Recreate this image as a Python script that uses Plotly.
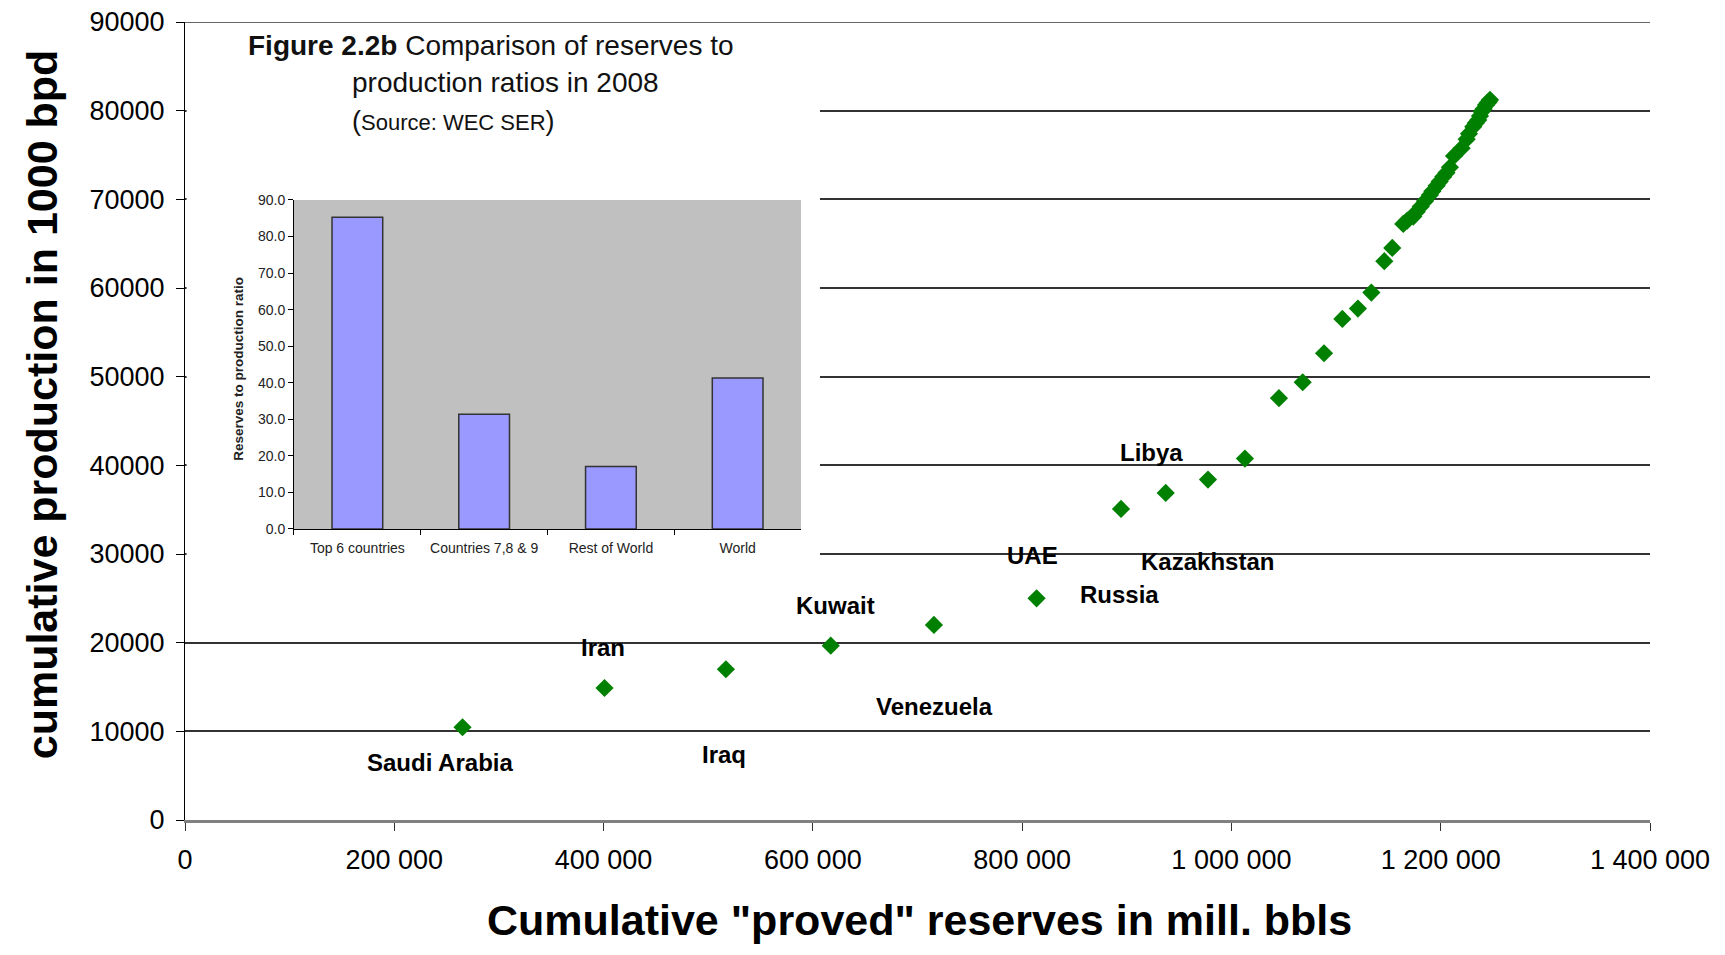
import plotly.graph_objects as go

# --- main scatter: cumulative reserves vs cumulative production ---
cum_reserves = [265200, 400900, 516900, 617100, 715700, 813800, 894500, 937200,
                977600, 1012900, 1045400, 1068100, 1088500, 1106000, 1120900,
                1133700, 1146100, 1153700, 1164200, 1168000, 1173800, 1177000,
                1180900, 1185000, 1189700, 1192000, 1196100, 1199000, 1202400,
                1205500, 1208800, 1212700, 1220000, 1224800, 1227000, 1231100,
                1233500, 1235900, 1237500, 1239100, 1241000, 1243300, 1245000,
                1246000, 1247100]
cum_production = [10460, 14890, 17000, 19660, 22000, 25000, 35080, 36890,
                  38390, 40760, 47570, 49370, 52640, 56510, 57680,
                  59480, 63020, 64520, 67230, 67600, 68050, 68600,
                  69180, 69800, 70500, 70900, 71520, 72000, 72560,
                  73000, 73620, 74900, 75770, 76780, 77400, 78200,
                  78600, 78960, 79400, 79900, 80200, 80650, 80900,
                  81000, 81220]

country_labels = ["Saudi Arabia", "Iran", "Iraq", "Kuwait", "Venezuela",
                  "UAE", "Russia", "Kazakhstan", "Libya"]
label_x = [243700, 399500, 515100, 621200, 715800, 809500, 892600, 976700, 923200]
label_y = [6540, 19400, 7440, 24140, 12750, 29780, 25380, 29100, 41400]

x_ticks = [0, 200000, 400000, 600000, 800000, 1000000, 1200000, 1400000]
x_ticktext = ["0", "200 000", "400 000", "600 000", "800 000",
              "1 000 000", "1 200 000", "1 400 000"]
y_ticks = [0, 10000, 20000, 30000, 40000, 50000, 60000, 70000, 80000, 90000]
y_ticktext = [str(v) for v in y_ticks]

# --- inset bar chart: reserves to production ratios ---
groups = ["Top 6 countries", "Countries 7,8 & 9", "Rest of World", "World"]
rp_ratio = [85.3, 31.4, 17.1, 41.3]

FONT = "Liberation Sans, Arial, sans-serif"

fig = go.Figure()

fig.add_trace(go.Scatter(
    x=cum_reserves, y=cum_production, mode="markers",
    marker=dict(symbol="diamond", size=14, color="#008000"),
    xaxis="x", yaxis="y", showlegend=False,
))

fig.add_trace(go.Bar(
    x=groups, y=rp_ratio, xaxis="x2", yaxis="y2",
    marker=dict(color="#9999FF", line=dict(color="#333333", width=1.5)),
    width=0.4, showlegend=False,
))

for name, lx, ly in zip(country_labels, label_x, label_y):
    fig.add_annotation(x=lx, y=ly, xref="x", yref="y", text=f"<b>{name}</b>",
                       showarrow=False, xanchor="center", yanchor="middle",
                       font=dict(size=24, color="black", family=FONT))

# white box behind the inset, hides the main gridlines there
fig.add_shape(type="rect", xref="x", yref="y",
              x0=1500, x1=606800, y0=28200, y1=89400,
              fillcolor="white", line=dict(width=0), layer="between")
# grey plot area of the inset
fig.add_shape(type="rect", xref="x2", yref="y2",
              x0=-0.5, x1=3.5, y0=0, y1=90,
              fillcolor="#C0C0C0", line=dict(width=0), layer="between")
# top frame line at 90000
fig.add_shape(type="line", xref="paper", yref="y", x0=0, x1=1, y0=90000, y1=90000,
              line=dict(color="#333333", width=1.5), layer="above")

# inset titles
fig.add_annotation(xref="paper", yref="paper", x=0.0416, y=0.970,
                   xanchor="left", yanchor="middle",
                   text="<b>Figure 2.2b</b> Comparison of reserves to", showarrow=False,
                   font=dict(size=28, color="#111111", family=FONT))
fig.add_annotation(xref="paper", yref="paper", x=0.1126, y=0.9236,
                   xanchor="left", yanchor="middle",
                   text="production ratios in 2008", showarrow=False,
                   font=dict(size=28, color="#111111", family=FONT))
fig.add_annotation(xref="paper", yref="paper", x=0.1126, y=0.876,
                   xanchor="left", yanchor="middle",
                   text="(<span style='font-size:22px'>Source: WEC SER</span>)",
                   showarrow=False, font=dict(size=27, color="#111111", family=FONT))
fig.add_annotation(xref="paper", yref="paper", x=0.0360, y=0.565, textangle=-90,
                   xanchor="center", yanchor="middle",
                   text="<b>Reserves to production ratio</b>", showarrow=False,
                   font=dict(size=13.5, color="#222222", family=FONT))

# main axis titles
fig.add_annotation(xref="paper", yref="paper", x=0.5017, y=-0.1253,
                   xanchor="center", yanchor="middle",
                   text='<b>Cumulative "proved" reserves in mill. bbls</b>',
                   showarrow=False, font=dict(size=43, color="black", family=FONT))
fig.add_annotation(xref="paper", yref="paper", x=-0.0976, y=0.521, textangle=-90,
                   xanchor="center", yanchor="middle",
                   text="<b>cumulative production in 1000 bpd</b>",
                   showarrow=False, font=dict(size=43, color="black", family=FONT))

# page body has an 8px margin, so the figure is 16px smaller than the window
fig.update_layout(
    width=1709, height=939,
    margin=dict(l=177, r=67, t=14, b=127),
    paper_bgcolor="white", plot_bgcolor="white",
    font=dict(family=FONT, color="black"),
    xaxis=dict(
        range=[0, 1400000], tickvals=x_ticks, ticktext=x_ticktext,
        showgrid=False, zeroline=False, automargin=False,
        ticklabeloverflow="allow",
        showline=True, linecolor="#808080", linewidth=3,
        ticks="outside", ticklen=8, tickcolor="#333333",
        tickfont=dict(size=27, color="black"), ticklabelstandoff=6,
    ),
    yaxis=dict(
        range=[0, 90000], tickvals=y_ticks, ticktext=y_ticktext,
        showgrid=True, gridcolor="#333333", gridwidth=1.5, zeroline=False,
        automargin=False, ticklabeloverflow="allow",
        showline=True, linecolor="black", linewidth=1,
        ticks="outside", ticklen=8, tickcolor="black",
        tickfont=dict(size=27, color="black"), ticklabelstandoff=6,
    ),
    xaxis2=dict(
        domain=[0.0744, 0.4205], anchor="y2", type="category",
        showgrid=False, zeroline=False, automargin=False,
        showline=True, linecolor="black", linewidth=1,
        ticks="outside", ticklen=5, tickson="boundaries", tickcolor="black",
        tickfont=dict(size=14, color="#222222"), ticklabelstandoff=6,
    ),
    yaxis2=dict(
        domain=[0.3647, 0.777], anchor="x2", range=[0, 90], dtick=10,
        tickformat=".1f", automargin=False,
        showgrid=True, gridcolor="black", gridwidth=1, zeroline=False,
        showline=True, linecolor="black", linewidth=1,
        ticks="outside", ticklen=5, tickcolor="black",
        tickfont=dict(size=14, color="#222222"),
    ),
)

fig.write_html("out.html")
